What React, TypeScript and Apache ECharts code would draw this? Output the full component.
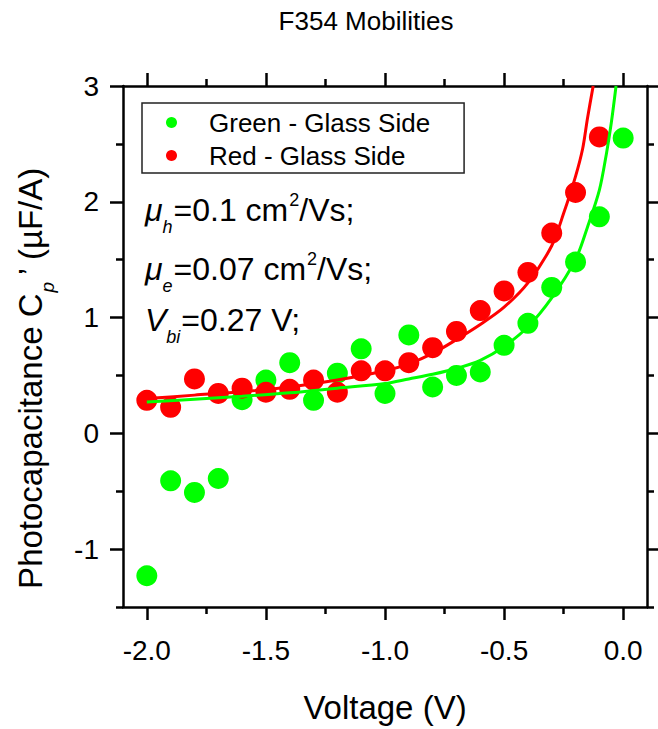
import React, { useEffect, useRef } from 'react';
import * as echarts from 'echarts';

// ---- data ----
const greenVoltages = [-2.0, -1.9, -1.8, -1.7, -1.6, -1.5, -1.4, -1.3, -1.2, -1.1, -1.0, -0.9, -0.8, -0.7, -0.6, -0.5, -0.4, -0.3, -0.2, -0.1, 0.0];
const greenValues = [-1.23, -0.41, -0.51, -0.39, 0.29, 0.46, 0.61, 0.285, 0.52, 0.73, 0.345, 0.85, 0.4, 0.5, 0.53, 0.76, 0.95, 1.26, 1.48, 1.87, 2.55];

const redVoltages = [-2.0, -1.9, -1.8, -1.7, -1.6, -1.5, -1.4, -1.3, -1.2, -1.1, -1.0, -0.9, -0.8, -0.7, -0.6, -0.5, -0.4, -0.3, -0.2, -0.1];
const redValues = [0.285, 0.225, 0.47, 0.345, 0.39, 0.355, 0.38, 0.46, 0.355, 0.54, 0.54, 0.61, 0.74, 0.88, 1.06, 1.23, 1.39, 1.73, 2.08, 2.56];

const redFitV = [-2.0, -1.8, -1.6, -1.4, -1.2, -1.0, -0.9, -0.8, -0.7, -0.6, -0.5, -0.4, -0.3, -0.25, -0.2, -0.17, -0.15, -0.126];
const redFitC = [0.3, 0.33, 0.36, 0.4, 0.46, 0.54, 0.6, 0.69, 0.81, 0.94, 1.09, 1.3, 1.62, 1.9, 2.22, 2.46, 2.72, 3.0];

const greenFitV = [-2.0, -1.8, -1.6, -1.4, -1.2, -1.0, -0.9, -0.8, -0.7, -0.6, -0.5, -0.4, -0.3, -0.2, -0.15, -0.1, -0.07, -0.05, -0.03];
const greenFitC = [0.27, 0.295, 0.32, 0.35, 0.39, 0.43, 0.47, 0.51, 0.56, 0.63, 0.75, 0.92, 1.17, 1.5, 1.78, 2.1, 2.42, 2.68, 3.0];

const xMajorTicks = [-2.0, -1.5, -1.0, -0.5, 0.0];
const xMinorTicks = [-1.75, -1.25, -0.75, -0.25];
const yMajorTicks = [-1, 0, 1, 2, 3];
const yMinorTicks = [-1.5, -0.5, 0.5, 1.5, 2.5];

const seriesNames = ['Green - Glass Side', 'Red - Glass Side'];
const titleText = 'F354 Mobilities';
const xName = 'Voltage (V)';

const FONT = '"Liberation Sans", Arial, sans-serif';
const GREEN = '#00ff00';
const RED = '#ff0000';

function makeX(position: 'bottom' | 'top', ticks: number[], major: boolean, showLine: boolean, showLabels: boolean) {
  return {
    type: 'value',
    position,
    min: -2.1,
    max: 0.1,
    gridIndex: 0,
    name: showLabels ? xName : '',
    nameLocation: 'middle',
    nameGap: 84,
    nameTextStyle: { fontFamily: FONT, fontSize: 33, color: '#000' },
    axisLine: { show: showLine, onZero: false, lineStyle: { color: '#000', width: 2.5 } },
    axisTick: { show: true, inside: false, length: major ? 13 : 7, customValues: ticks, lineStyle: { color: '#000', width: 2.5 } },
    axisLabel: {
      show: showLabels,
      customValues: ticks,
      margin: 29,
      fontFamily: FONT,
      fontSize: 28,
      color: '#000',
      formatter: (v: number) => v.toFixed(1),
    },
    splitLine: { show: false },
    minorTick: { show: false },
  };
}

function makeY(position: 'left' | 'right', ticks: number[], major: boolean, showLine: boolean, showLabels: boolean) {
  return {
    type: 'value',
    position,
    min: -1.5,
    max: 3,
    gridIndex: 0,
    axisLine: { show: showLine, onZero: false, lineStyle: { color: '#000', width: 2.5 } },
    axisTick: { show: true, inside: false, length: major ? 13 : 7, customValues: ticks, lineStyle: { color: '#000', width: 2.5 } },
    axisLabel: {
      show: showLabels,
      customValues: ticks,
      margin: 24,
      fontFamily: FONT,
      fontSize: 28,
      color: '#000',
      formatter: (v: number) => String(v),
    },
    splitLine: { show: false },
    minorTick: { show: false },
  };
}

const mainRich = (size: number) => ({
  n: { fontFamily: FONT, fontSize: size, lineHeight: size, color: '#000', verticalAlign: 'top', padding: [3, 0, 0, 0] },
  i: { fontFamily: FONT, fontSize: size, lineHeight: size, color: '#000', fontStyle: 'italic', verticalAlign: 'top', padding: [3, 0, 0, 0] },
  sub: { fontFamily: FONT, fontSize: 18, lineHeight: 18, color: '#000', fontStyle: 'italic', verticalAlign: 'top', padding: [27, 1, 0, 0] },
  sup: { fontFamily: FONT, fontSize: 18, lineHeight: 18, color: '#000', verticalAlign: 'top', padding: [0, 0, 0, 1] },
});

function annotation(text: string, centerY: number) {
  return {
    type: 'text',
    x: 145,
    y: centerY - 19,
    silent: true,
    style: {
      text,
      rich: mainRich(32),
      align: 'left',
      verticalAlign: 'top',
      textAlign: 'left',
      textVerticalAlign: 'top',
    },
  };
}

export default function App() {
  const ref = useRef<HTMLDivElement>(null);

  useEffect(() => {
    if (!ref.current) return;
    const chart = echarts.init(ref.current, null, { renderer: 'svg' });

    const option: any = {
      animation: false,
      backgroundColor: '#fff',
      grid: { left: 123, right: 11, top: 86, bottom: 122, containLabel: false, outerBoundsMode: 'none' },
      legend: {
        show: true,
        data: seriesNames,
        orient: 'vertical',
        left: 142,
        top: 103,
        padding: [5, 34, 3, 24],
        itemGap: 4,
        itemWidth: 11,
        itemHeight: 29,
        icon: 'circle',
        selectedMode: false,
        borderColor: '#222',
        borderWidth: 1.5,
        borderRadius: 0,
        backgroundColor: 'transparent',
        textStyle: { fontFamily: FONT, fontSize: 26, lineHeight: 29, color: '#000', padding: [0, 0, 0, 27] },
      },
      xAxis: [
        makeX('bottom', xMajorTicks, true, true, true),
        makeX('bottom', xMinorTicks, false, false, false),
        makeX('top', xMajorTicks, true, true, false),
        makeX('top', xMinorTicks, false, false, false),
      ],
      yAxis: [
        makeY('left', yMajorTicks, true, true, true),
        makeY('left', yMinorTicks, false, false, false),
        makeY('right', yMajorTicks, true, true, false),
        makeY('right', yMinorTicks, false, false, false),
      ],
      series: [
        {
          name: seriesNames[0],
          type: 'scatter',
          xAxisIndex: 0,
          yAxisIndex: 0,
          symbol: 'circle',
          symbolSize: 21,
          itemStyle: { color: GREEN, opacity: 1 },
          silent: true,
          data: greenVoltages.map((v, i) => [v, greenValues[i]]),
        },
        {
          name: seriesNames[1],
          type: 'scatter',
          xAxisIndex: 0,
          yAxisIndex: 0,
          symbol: 'circle',
          symbolSize: 21,
          itemStyle: { color: RED, opacity: 1 },
          silent: true,
          data: redVoltages.map((v, i) => [v, redValues[i]]),
        },
        {
          name: 'Red fit',
          type: 'line',
          xAxisIndex: 0,
          yAxisIndex: 0,
          showSymbol: false,
          symbol: 'none',
          smooth: 0.3,
          lineStyle: { color: RED, width: 3 },
          itemStyle: { color: RED },
          silent: true,
          data: redFitV.map((v, i) => [v, redFitC[i]]),
        },
        {
          name: 'Green fit',
          type: 'line',
          xAxisIndex: 0,
          yAxisIndex: 0,
          showSymbol: false,
          symbol: 'none',
          smooth: 0.3,
          lineStyle: { color: GREEN, width: 3 },
          itemStyle: { color: GREEN },
          silent: true,
          data: greenFitV.map((v, i) => [v, greenFitC[i]]),
        },
      ],
      graphic: [
        {
          type: 'text',
          x: 366,
          y: 21,
          silent: true,
          style: {
            text: titleText,
            fontFamily: FONT,
            fontSize: 26,
            fill: '#000',
            align: 'center',
            verticalAlign: 'middle',
            textAlign: 'center',
            textVerticalAlign: 'middle',
          },
        },
        {
          type: 'text',
          x: 30,
          y: 378,
          rotation: Math.PI / 2,
          silent: true,
          style: {
            text: '{n|Photocapacitance C}{sub|p}{n|\u2019 (\u00b5F/A)}',
            rich: {
              n: { fontFamily: FONT, fontSize: 33, lineHeight: 33, color: '#000', verticalAlign: 'top' },
              sub: { fontFamily: FONT, fontSize: 19, lineHeight: 19, color: '#000', fontStyle: 'italic', verticalAlign: 'top', padding: [24, 6, 0, 1] },
            },
            align: 'center',
            verticalAlign: 'middle',
            textAlign: 'center',
            textVerticalAlign: 'middle',
          },
        },
        annotation('{i|\u03bc}{sub|h}{n|=0.1 cm}{sup|2}{n|/Vs;}', 210),
        annotation('{i|\u03bc}{sub|e}{n|=0.07 cm}{sup|2}{n|/Vs;}', 269),
        annotation('{i|V}{sub|bi}{n|=0.27 V;}', 320),
      ],
    };

    chart.setOption(option);
    return () => chart.dispose();
  }, []);

  return (
    <div
      ref={ref}
      style={{ position: 'fixed', left: 0, top: 0, width: 658, height: 729, background: '#fff' }}
    />
  );
}
